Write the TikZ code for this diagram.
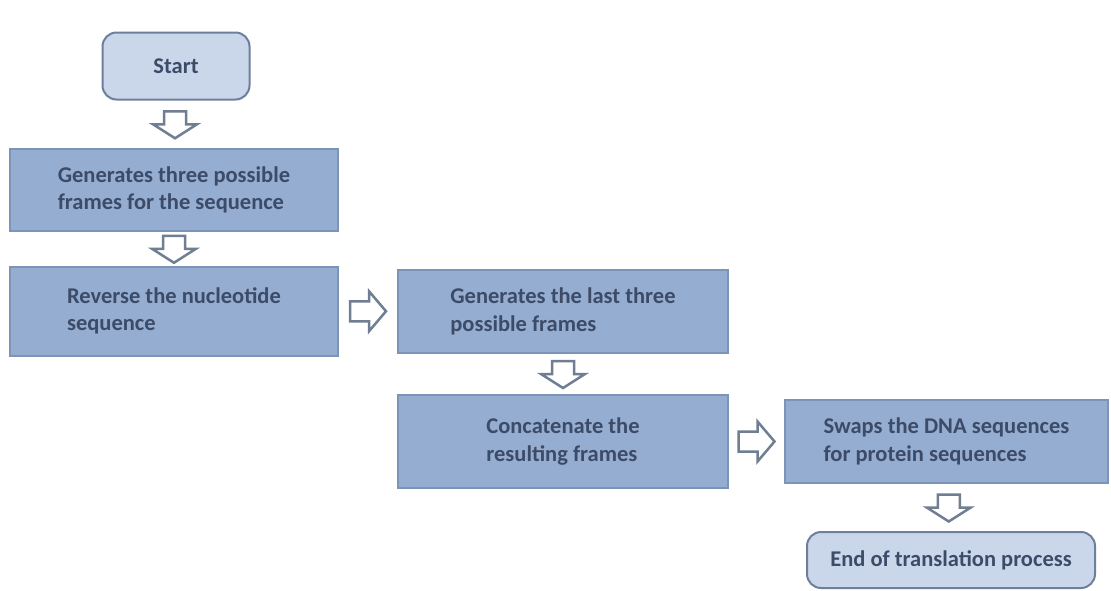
\documentclass[tikz,border=0pt]{standalone}
\usepackage{fontspec}
\setmainfont{Carlito}
\usetikzlibrary{calc}
\definecolor{boxfill}{HTML}{95ADD0}
\definecolor{boxline}{HTML}{7C94B8}
\definecolor{termfill}{HTML}{CAD7EB}
\definecolor{termline}{HTML}{6E7F9C}
\definecolor{textcol}{HTML}{3C4B68}
\definecolor{arrowline}{HTML}{6F7E93}
\tikzset{%
  process box/.style={
    rectangle,
    draw=boxline,
    line width=2pt,
    fill=boxfill,
    minimum width=328pt,
    minimum height=82pt,
    align=left,
    text=textcol,
    font=\fontsize{22.5}{27.5}\selectfont\bfseries
  },
  terminal/.style={
    process box,
    rounded corners=14pt,
    fill=termfill,
    draw=termline,
    align=center
  },
  down block/.pic={
    \draw[arrowline, line width=2.5pt, fill=white, line join=miter]
      (-11,-13) -- (11,-13) -- (11,0) -- (22,0) -- (0,14) -- (-22,0) -- (-11,0) -- cycle;
  },
  right block/.pic={
    \draw[arrowline, line width=2.5pt, fill=white, line join=miter]
      (-18,-10) -- (1,-10) -- (1,-20) -- (18,0) -- (1,20) -- (1,10) -- (-18,10) -- cycle;
  },
}
\begin{document}
\begin{tikzpicture}[x=1pt, y=-1pt]

  \fill[white] (0,0) rectangle (1111,590);
  \useasboundingbox (0,0) rectangle (1111,590);

  % Start and end
  \node [terminal, minimum width=147pt, minimum height=67pt] (start) at (176,66) {Start};
  \node [terminal, minimum width=288pt, minimum height=56pt] (end) at (951,560) {End of translation process};

  % Process steps
  \node [process box] (box-1) at (174,190) {Generates three possible\\frames for the sequence};
  \node [process box, minimum height=89pt] (box-2) at (174,311) {Reverse the nucleotide\\sequence};
  \node [process box, minimum width=330pt, minimum height=83pt] (box-3) at (563,311.5) {Generates the last three\\possible frames};
  \node [process box, minimum width=330pt, minimum height=93pt] (box-4) at (563,441.5) {Concatenate the\\resulting frames};
  \node [process box, minimum width=323pt, minimum height=83pt] (box-5) at (946.5,441.5) {Swaps the DNA sequences\\for protein sequences};

  % Arrows downwards
  \foreach \a/\b in {start/box-1, box-1/box-2, box-3/box-4, box-5/end}
    \pic at ($(\a.south)!0.5!(\b.north)$) {down block};

  % Arrows to the right
  \foreach \a/\b in {box-2/box-3, box-4/box-5}
    \pic at ($(\a.east)!0.5!(\b.west)$) {right block};

\end{tikzpicture}
\end{document}
